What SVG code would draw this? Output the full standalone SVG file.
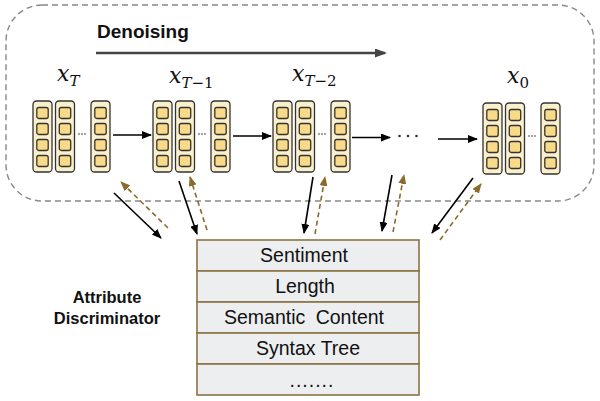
<svg xmlns="http://www.w3.org/2000/svg" width="600" height="401" viewBox="0 0 600 401">
<defs>
<style>
.col{fill:#FBF0CC;stroke:#333;stroke-width:1.3}
.cell{fill:#F8DA88;stroke:#333;stroke-width:1.3}
.dot{fill:#333}
.math{font-family:"DejaVu Serif","Liberation Serif",serif;fill:#111}
.blk{stroke:#000;stroke-width:1.6;fill:none}
.brn{stroke:#8B6A2B;stroke-width:1.6;fill:none;stroke-dasharray:5,3.5}
.tbl{font-family:"Liberation Sans",Arial,sans-serif;font-size:19.5px;fill:#111;text-anchor:middle}
.row{fill:#EDEEF0;stroke:#8B7344;stroke-width:1.6}
</style>
<marker id="ah" markerWidth="10" markerHeight="8" refX="9" refY="4" orient="auto" markerUnits="userSpaceOnUse"><path d="M0,0 L10,4 L0,8 Z" fill="#000"/></marker>
<marker id="ahb" markerWidth="10" markerHeight="8" refX="9" refY="4" orient="auto" markerUnits="userSpaceOnUse"><path d="M0,0 L10,4 L0,8 Z" fill="#8B6A2B"/></marker>
<marker id="ahg" markerWidth="12" markerHeight="9" refX="10" refY="4.5" orient="auto" markerUnits="userSpaceOnUse"><path d="M0,0 L12,4.5 L0,9 Z" fill="#444"/></marker>
<g id="column">
<rect class="col" x="0" y="0" width="19" height="71" rx="3.5"/>
<rect class="cell" x="3.8" y="6.5" width="11.4" height="11" rx="2"/>
<rect class="cell" x="3.8" y="22.5" width="11.4" height="11" rx="2"/>
<rect class="cell" x="3.8" y="38.5" width="11.4" height="11" rx="2"/>
<rect class="cell" x="3.8" y="54.5" width="11.4" height="11" rx="2"/>
</g>
<g id="colgroup">
<use href="#column" x="0" y="0"/>
<use href="#column" x="22.5" y="0"/>
<use href="#column" x="58" y="0"/>
<circle class="dot" cx="46" cy="33" r="0.8"/>
<circle class="dot" cx="49" cy="33" r="0.8"/>
<circle class="dot" cx="52" cy="33" r="0.8"/>
</g>
</defs>
<rect width="600" height="401" fill="#fff"/>

<g id="denoising-frame">
<rect x="6" y="5" width="588" height="196" rx="36" fill="none" stroke="#888" stroke-width="1.4" stroke-dasharray="6,4"/>
<text x="97" y="38" font-family="Liberation Sans,Arial,sans-serif" font-size="19" font-weight="bold" fill="#111">Denoising</text>
<line x1="96" y1="53" x2="385" y2="53" stroke="#444" stroke-width="2.5" marker-end="url(#ahg)"/>
</g>

<g id="node-xT">
<text class="math" x="57" y="81" font-size="22"><tspan font-style="italic">x</tspan><tspan font-size="15" dy="5" font-style="italic">T</tspan></text>
<use href="#colgroup" x="33" y="101"/>
</g>
<g id="node-xT-1">
<text class="math" x="169" y="83" font-size="22"><tspan font-style="italic">x</tspan><tspan font-size="15" dy="5" font-style="italic">T</tspan><tspan font-size="15">−1</tspan></text>
<use href="#colgroup" x="153" y="101"/>
</g>
<g id="node-xT-2">
<text class="math" x="292" y="81" font-size="22"><tspan font-style="italic">x</tspan><tspan font-size="15" dy="5" font-style="italic">T</tspan><tspan font-size="15">−2</tspan></text>
<use href="#colgroup" x="273" y="101"/>
</g>
<g id="node-ellipsis">
<circle class="dot" cx="399.5" cy="136" r="1.3"/>
<circle class="dot" cx="408" cy="136" r="1.3"/>
<circle class="dot" cx="416.5" cy="136" r="1.3"/>
</g>
<g id="node-x0">
<text class="math" x="507" y="83" font-size="22"><tspan font-style="italic">x</tspan><tspan font-size="15" dy="5">0</tspan></text>
<use href="#colgroup" x="483" y="103"/>
</g>

<g id="node-discriminator">
<text x="107" y="303" font-family="Liberation Sans,Arial,sans-serif" font-size="16.5" font-weight="bold" fill="#111" text-anchor="middle">Attribute</text>
<text x="107" y="324" font-family="Liberation Sans,Arial,sans-serif" font-size="16.5" font-weight="bold" fill="#111" text-anchor="middle">Discriminator</text>
<rect class="row" x="197" y="240" width="222" height="31"/>
<rect class="row" x="197" y="271" width="222" height="31"/>
<rect class="row" x="197" y="302" width="222" height="31"/>
<rect class="row" x="197" y="333" width="222" height="31"/>
<rect class="row" x="197" y="364" width="222" height="31"/>
<text class="tbl" x="304" y="262">Sentiment</text>
<text class="tbl" x="305" y="293">Length</text>
<text class="tbl" x="304" y="324" word-spacing="5">Semantic Content</text>
<text class="tbl" x="308" y="355">Syntax Tree</text>
<text class="tbl" x="312" y="387" letter-spacing="1">.......</text>
</g>

<g id="connectors">
<line class="blk" x1="113" y1="135" x2="151" y2="135" stroke-width="2" marker-end="url(#ah)"/>
<line class="blk" x1="233" y1="136" x2="271" y2="136" stroke-width="2" marker-end="url(#ah)"/>
<line class="blk" x1="352" y1="137.5" x2="390" y2="137.5" stroke-width="2" marker-end="url(#ah)"/>
<line class="blk" x1="438" y1="139" x2="477" y2="139" stroke-width="2" marker-end="url(#ah)"/>

<line class="blk" x1="114" y1="193" x2="161" y2="238" marker-end="url(#ah)"/>
<line class="blk" x1="179" y1="181" x2="197" y2="234" marker-end="url(#ah)"/>
<line class="blk" x1="313" y1="177" x2="304" y2="233" marker-end="url(#ah)"/>
<line class="blk" x1="392" y1="175" x2="382" y2="231" marker-end="url(#ah)"/>
<line class="blk" x1="473" y1="178" x2="432" y2="233" marker-end="url(#ah)"/>

<line class="brn" x1="168" y1="228" x2="121" y2="182" marker-end="url(#ahb)"/>
<line class="brn" x1="207" y1="230" x2="190" y2="177" marker-end="url(#ahb)"/>
<line class="brn" x1="315" y1="234" x2="325" y2="177" marker-end="url(#ahb)"/>
<line class="brn" x1="393" y1="232" x2="404" y2="175" marker-end="url(#ahb)"/>
<line class="brn" x1="440" y1="240" x2="481" y2="184" marker-end="url(#ahb)"/>
</g>
</svg>
